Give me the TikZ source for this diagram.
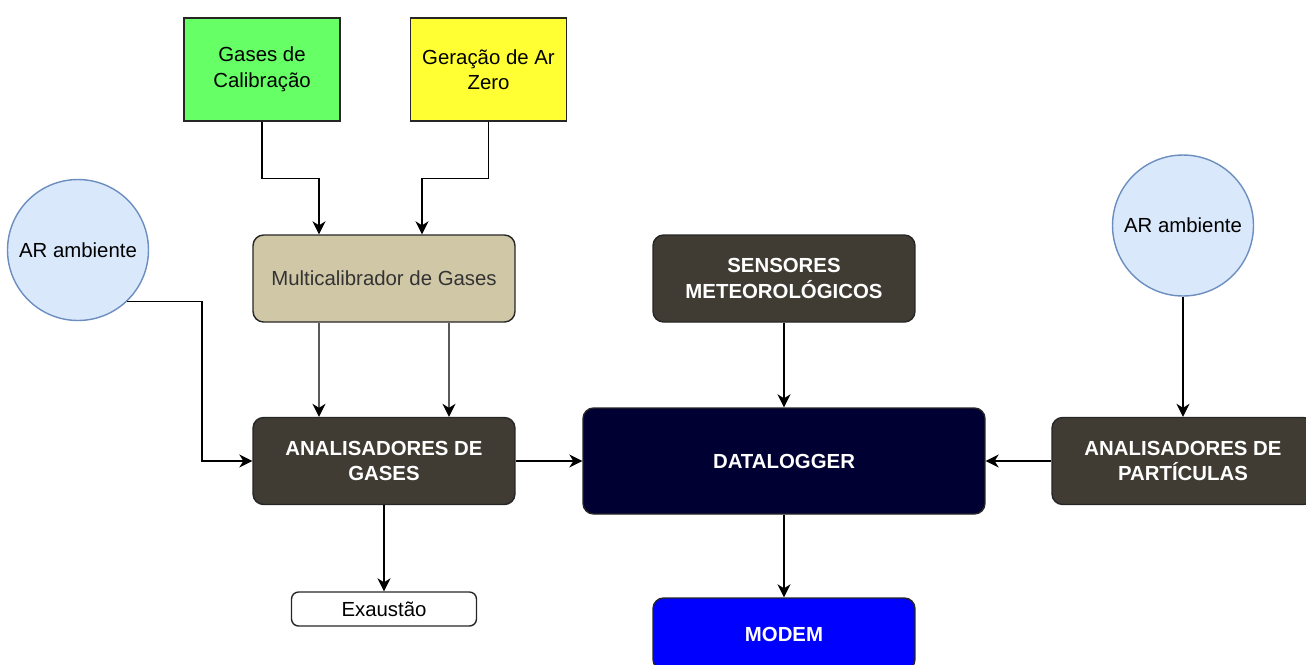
\documentclass[tikz,border=0pt]{standalone}
\usepackage{fontspec}
\setmainfont{Liberation Sans}
\usetikzlibrary{arrows.meta}

\definecolor{calgreen}{HTML}{66FF66}
\definecolor{zeroyellow}{HTML}{FFFF33}
\definecolor{airfill}{HTML}{DAE8FC}
\definecolor{airline}{HTML}{6C8EBF}
\definecolor{beige}{HTML}{D0C7A7}
\definecolor{darkbox}{HTML}{403C34}
\definecolor{navybox}{HTML}{000033}
\definecolor{modemblue}{HTML}{0000FF}

\begin{document}
\begin{tikzpicture}[x=0.02cm,y=-0.02cm,
      >={Stealth[length=2.6mm,width=2.6mm,inset=0.8mm]},
      base/.style={draw=black!85,line width=0.8pt,align=center,
        font=\fontsize{11.6}{14.5}\selectfont},
      src/.style={base,minimum width=3.12cm,minimum height=2.06cm},
      blk/.style={base,rounded corners=6pt,minimum width=5.24cm,
        minimum height=1.74cm},
      dark/.style={blk,fill=darkbox,text=white,
        font=\fontsize{11.6}{14.5}\selectfont\bfseries},
      air/.style={circle,draw=airline,fill=airfill,line width=0.8pt,
        minimum size=2.82cm,inner sep=0pt,
        font=\fontsize{11.6}{14.5}\selectfont},
      flow/.style={draw=black,line width=0.8pt,->},
      flowg/.style={draw=black!65,line width=0.9pt,
        -{Stealth[length=2.6mm,width=2.6mm,inset=0.8mm,color=black]}}
    ]
    \useasboundingbox (0,0) rectangle (1306,664);
    \node[src,fill=calgreen] (GC) at (262,69.5) {Gases de\\Calibração};
    \node[src,fill=zeroyellow] (GZ) at (488.5,69.5) {Geração de Ar\\Zero};
    \node[air] (ARl) at (78,250) {AR ambiente};
    \node[blk,fill=beige,text=black!80] (MC) at (384,278.5)
      {Multicalibrador de Gases};
    \node[dark] (AG) at (384,461) {ANALISADORES DE\\GASES};
    \node[base,rounded corners=4pt,minimum width=3.7cm,minimum height=0.68cm]
      (EX) at (384,609) {Exaustão};
    \node[dark] (SM) at (784,278.5) {SENSORES\\METEOROLÓGICOS};
    \node[dark,fill=navybox,minimum width=8.04cm,minimum height=2.12cm]
      (DL) at (784,461) {DATALOGGER};
    \node[dark,fill=modemblue,minimum height=1.44cm] (MD) at (784,634)
      {MODEM};
    \node[air] (ARr) at (1183,225.5) {AR ambiente};
    \node[dark] (AP) at (1183,461) {ANALISADORES DE\\PARTÍCULAS};
    \coordinate (bendL) at (202,461);
    \draw[flow] (GC.south) -- ++(0,57) -| ([xshift=-1.3cm]MC.north);
    \draw[flow] (GZ.south) -- ++(0,57) -| ([xshift=0.76cm]MC.north);
    \draw[flowg] ([xshift=-1.3cm]MC.south) -- ([xshift=-1.3cm]AG.north);
    \draw[flowg] ([xshift=1.3cm]MC.south) -- ([xshift=1.3cm]AG.north);
    \draw[flow] (ARl.-46) -| (bendL) -- (AG.west);
    \draw[flow] (AG.east) -- (DL.west);
    \draw[flow] (AG.south) -- (EX.north);
    \draw[flow] (SM.south) -- (DL.north);
    \draw[flow] (DL.south) -- (MD.north);
    \draw[flow] (ARr.south) -- (AP.north);
    \draw[flow] (AP.west) -- (DL.east);
  \end{tikzpicture}
\end{document}
